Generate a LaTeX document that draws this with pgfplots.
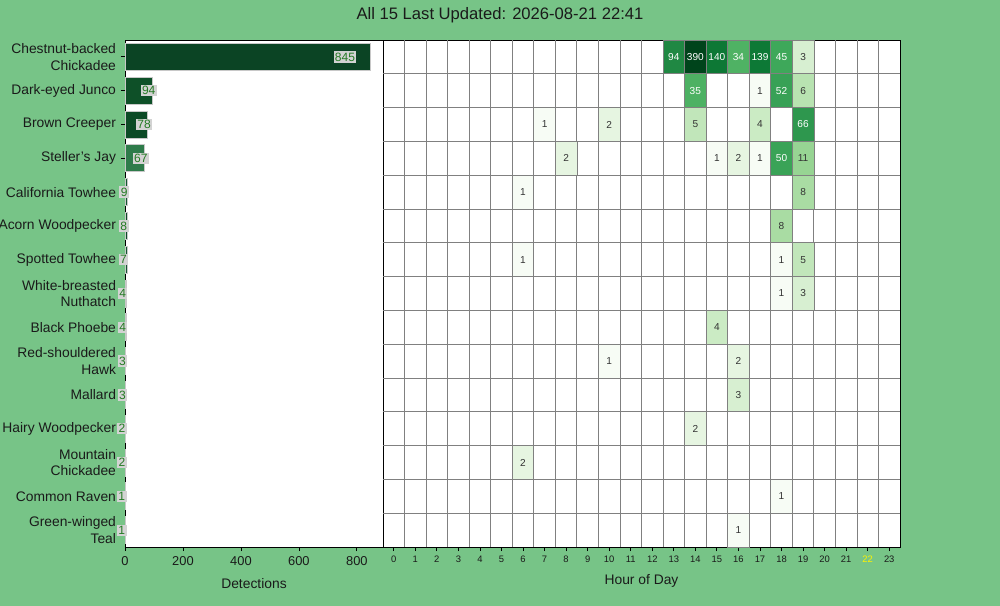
\documentclass[border=0pt]{standalone}
\usepackage{pgfplots}
\pgfplotsset{compat=1.18}
\usepackage{fontspec}
\setmainfont{Liberation Sans}
\pgfplotsset{/pgf/number format/assume math mode=true}
\definecolor{bg}{HTML}{77C487}
\definecolor{gridgray}{HTML}{808080}
\definecolor{labgreen}{HTML}{237A23}
\definecolor{labbox}{HTML}{D3D3D3}
\definecolor{txt}{HTML}{1A1A1A}
\definecolor{celltxt}{HTML}{333333}
\definecolor{edgegray}{HTML}{C8C8C8}
\definecolor{cA}{HTML}{0B4424}
\definecolor{cB}{HTML}{0E5028}
\definecolor{cC}{HTML}{0C4A26}
\definecolor{cD}{HTML}{2E7B4A}
\definecolor{cE}{HTML}{145530}
% Greens colormap, log scale 1..390
\definecolor{v1}{RGB}{247,252,245}
\definecolor{v2}{RGB}{230,245,225}
\definecolor{v3}{RGB}{215,239,209}
\definecolor{v4}{RGB}{203,235,196}
\definecolor{v5}{RGB}{193,230,186}
\definecolor{v6}{RGB}{184,227,177}
\definecolor{v8}{RGB}{169,220,163}
\definecolor{v11}{RGB}{151,212,147}
\definecolor{v34}{RGB}{79,178,100}
\definecolor{v35}{RGB}{77,177,99}
\definecolor{v45}{RGB}{62,168,90}
\definecolor{v50}{RGB}{58,163,87}
\definecolor{v52}{RGB}{56,161,86}
\definecolor{v66}{RGB}{46,151,78}
\definecolor{v94}{RGB}{32,136,67}
\definecolor{v139}{RGB}{13,121,54}
\definecolor{v140}{RGB}{13,120,53}
\definecolor{v390}{RGB}{0,68,27}

\begin{document}
\begin{tikzpicture}
\useasboundingbox (0,0) rectangle (10in,6.06in);
\clip (0,0) rectangle (10in,6.06in);
\fill[bg] (0,0) rectangle (10in,6.06in);
\node[font=\fontsize{12}{14}\selectfont, text=txt] at (5in,5.91in) {All 15 Last Updated: 2026-08-21 22:41};

\begin{axis}[at={(1.25in,0.59in)}, anchor=south west, scale only axis,
  width=2.58in, height=5.07in,
  xmin=0, xmax=890, ymin=-0.5, ymax=14.5, y dir=reverse,
  xbar, bar width=0.8, bar shift=0pt,
  axis background/.style={fill=white},
  ytick={0,...,14},
  yticklabels={{Chestnut-backed\\Chickadee},{Dark-eyed Junco},{Brown Creeper},{Steller's Jay},{California Towhee},{Acorn Woodpecker},{Spotted Towhee},{White-breasted\\Nuthatch},{Black Phoebe},{Red-shouldered\\Hawk},{Mallard},{Hairy Woodpecker},{Mountain\\Chickadee},{Common Raven},{Green-winged\\Teal}},
  yticklabel style={align=right, font=\fontsize{10}{12}\selectfont, text=txt},
  xtick={0,200,400,600,800},
  xticklabel style={font=\fontsize{9.3}{11}\selectfont, text=txt},
  tick align=outside, xtick pos=left, ytick pos=left, major tick length=3pt,
  tick style={black, line width=0.6pt},
  axis line style={line width=0.6pt},
  xlabel={Detections}, xlabel style={font=\fontsize{10}{12}\selectfont, text=txt, yshift=-2.5pt},
  nodes near coords,
  every node near coord/.style={anchor=center, fill=labbox, inner sep=1pt, text=labgreen, font=\fontsize{8.7}{10}\selectfont, xshift=-0.035in},
]
\addplot[fill=cA, draw=edgegray, line width=0.6pt, every node near coord/.append style={xshift=-0.215in}] coordinates {(845,0)};
\addplot[fill=cB, draw=edgegray, line width=0.6pt] coordinates {(94,1)};
\addplot[fill=cC, draw=edgegray, line width=0.6pt] coordinates {(78,2)};
\addplot[fill=cD, draw=edgegray, line width=0.6pt] coordinates {(67,3)};
\addplot[fill=cE, draw=edgegray, line width=0.6pt] coordinates {(9,4)};
\addplot[fill=cC, draw=edgegray, line width=0.6pt] coordinates {(8,5)};
\addplot[fill=cE, draw=edgegray, line width=0.6pt] coordinates {(7,6)};
\addplot[fill=cE, draw=edgegray, line width=0.6pt] coordinates {(4,7)};
\addplot[fill=cE, draw=edgegray, line width=0.6pt] coordinates {(4,8)};
\addplot[fill=cE, draw=edgegray, line width=0.6pt] coordinates {(3,9)};
\addplot[fill=cE, draw=edgegray, line width=0.6pt] coordinates {(3,10)};
\addplot[fill=cE, draw=edgegray, line width=0.6pt] coordinates {(2,11)};
\addplot[fill=cE, draw=edgegray, line width=0.6pt] coordinates {(2,12)};
\addplot[fill=cE, draw=edgegray, line width=0.6pt] coordinates {(1,13)};
\addplot[fill=cE, draw=edgegray, line width=0.6pt] coordinates {(1,14)};
\end{axis}

\begin{axis}[at={(3.83in,0.59in)}, anchor=south west, scale only axis,
  width=5.17in, height=5.07in,
  xmin=-0.5, xmax=23.5, ymin=-0.5, ymax=14.5, y dir=reverse,
  axis background/.style={fill=white},
  xtick={0,...,23},
  xticklabels={0,1,2,3,4,5,6,7,8,9,10,11,12,13,14,15,16,17,18,19,20,21,\textcolor{yellow}{22},23},
  xticklabel style={font=\fontsize{6.8}{8}\selectfont, text=txt},
  ytick=\empty,
  extra x ticks={0.5,1.5,2.5,3.5,4.5,5.5,6.5,7.5,8.5,9.5,10.5,11.5,12.5,13.5,14.5,15.5,16.5,17.5,18.5,19.5,20.5,21.5,22.5},
  extra x tick labels={},
  extra x tick style={grid=major, major tick length=0pt},
  extra y ticks={0.5,1.5,2.5,3.5,4.5,5.5,6.5,7.5,8.5,9.5,10.5,11.5,12.5,13.5},
  extra y tick labels={},
  extra y tick style={grid=major, major tick length=0pt},
  major grid style={gridgray, line width=0.6pt},
  tick align=outside, xtick pos=left, major tick length=3pt,
  tick style={black, line width=0.6pt},
  axis line style={line width=0.6pt},
  xlabel={Hour of Day}, xlabel style={font=\fontsize{10}{12}\selectfont, text=txt, yshift=1pt},
  cellp/.style n args={3}{only marks, mark=square*, mark size=0.10771in,
    mark options={yscale=1.569, fill=#1, draw=gridgray, line width=0.45pt},
    nodes near coords={#2},
    every node near coord/.append style={anchor=center, text=#3, font=\fontsize{7.3}{9}\selectfont}},
]
\addplot[cellp={v390}{390}{white}] coordinates {(14,0)};
\addplot[cellp={v140}{140}{white}] coordinates {(15,0)};
\addplot[cellp={v139}{139}{white}] coordinates {(17,0)};
\addplot[cellp={v94}{94}{white}] coordinates {(13,0)};
\addplot[cellp={v66}{66}{white}] coordinates {(19,2)};
\addplot[cellp={v52}{52}{white}] coordinates {(18,1)};
\addplot[cellp={v50}{50}{white}] coordinates {(18,3)};
\addplot[cellp={v45}{45}{white}] coordinates {(18,0)};
\addplot[cellp={v35}{35}{white}] coordinates {(14,1)};
\addplot[cellp={v34}{34}{white}] coordinates {(16,0)};
\addplot[cellp={v11}{11}{celltxt}] coordinates {(19,3)};
\addplot[cellp={v8}{8}{celltxt}] coordinates {(19,4) (18,5)};
\addplot[cellp={v6}{6}{celltxt}] coordinates {(19,1)};
\addplot[cellp={v5}{5}{celltxt}] coordinates {(14,2) (19,6)};
\addplot[cellp={v4}{4}{celltxt}] coordinates {(17,2) (15,8)};
\addplot[cellp={v3}{3}{celltxt}] coordinates {(19,0) (19,7) (16,10)};
\addplot[cellp={v2}{2}{celltxt}] coordinates {(10,2) (8,3) (16,3) (16,9) (14,11) (6,12)};
\addplot[cellp={v1}{1}{celltxt}] coordinates {(17,1) (7,2) (15,3) (17,3) (6,4) (6,6) (18,6) (18,7) (10,9) (18,13) (16,14)};
\end{axis}
\end{tikzpicture}
\end{document}
